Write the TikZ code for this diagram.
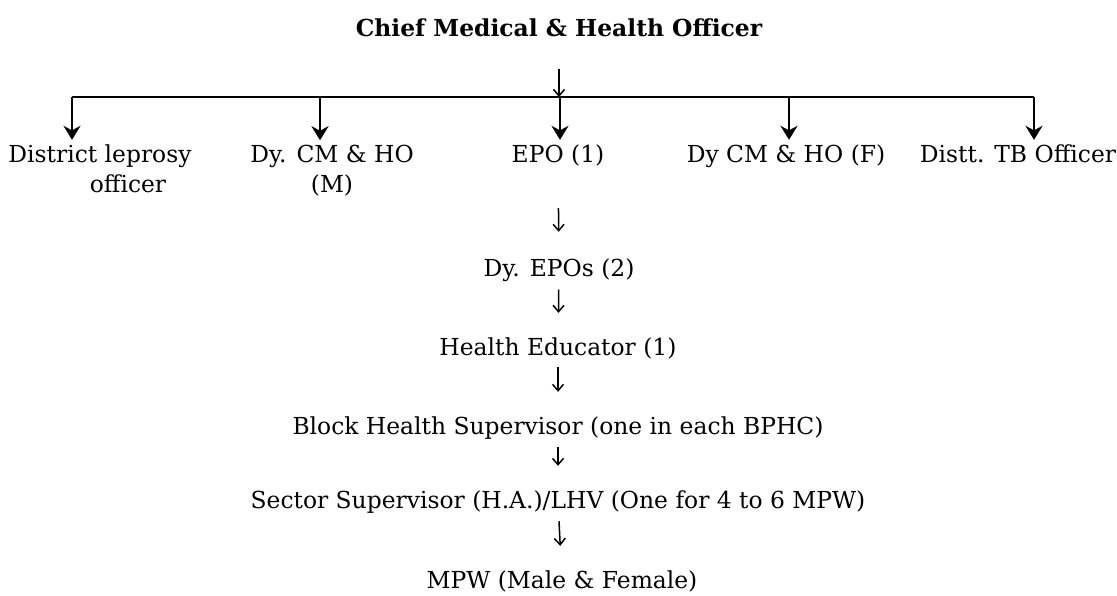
\documentclass[tikz,border=0pt]{standalone}
\usepackage{fontspec}
\setmainfont{DejaVu Serif}
\usetikzlibrary{arrows.meta,positioning}
\tikzset{
  post/.style={align=center, inner sep=0pt, font=\fontsize{11.7}{15}\selectfont},
  chief/.style={post, font=\fontsize{11.7}{15}\selectfont\bfseries},
  barline/.style={line width=1.1pt},
  droparr/.style={-{Stealth[length=7pt,width=8.5pt]}, line width=1.2pt, shorten >=2pt},
  downarr/.style={-{Straight Barb[length=3.2pt,width=5.5pt]}, line width=0.75pt,
    shorten <=4pt, shorten >=12pt}
}
\begin{document}
\begin{tikzpicture}[x=0.5pt, y=-0.5pt]
  \useasboundingbox (0,0) rectangle (1117,595);
  % top of the district
  \node[chief, anchor=base] (cmho) at (559,36) {Chief Medical \& Health Officer};
  \coordinate (hub) at (559,97);
  \draw[downarr, shorten <=16pt, shorten >=0pt] (cmho) -- (hub);
  % officers under the CMHO
  \node[post, anchor=base] (lep) at (100,192) {District leprosy\\\hspace*{28pt}officer};
  \node[post, anchor=base] (dycmm) at (332,192) {Dy. CM \& HO\\(M)};
  \node[post, anchor=base] (epo) at (558,162) {EPO (1)};
  \node[post, anchor=base] (dycmf) at (786,162) {Dy CM \& HO (F)};
  \node[post, anchor=base] (tbo) at (1018,162) {Distt. TB Officer};
  \coordinate (b1) at (72,97);
  \coordinate (b2) at (320,97);
  \coordinate (b3) at (560,97);
  \coordinate (b4) at (789,97);
  \coordinate (b5) at (1034,97);
  \draw[barline] (b1) -- (b5);
  \draw[droparr] (b1) -- (b1 |- lep.north);
  \draw[droparr] (b2) -- (b2 |- dycmm.north);
  \draw[droparr] (b3) -- (b3 |- epo.north);
  \draw[droparr] (b4) -- (b4 |- dycmf.north);
  \draw[droparr] (b5) -- (b5 |- tbo.north);
  % field staff chain
  \node[post, anchor=base] (dyepo) at (559,276) {Dy. EPOs (2)};
  \node[post, anchor=base] (educ) at (558,355) {Health Educator (1)};
  \node[post, anchor=base] (bhs) at (558,434) {Block Health Supervisor (one in each BPHC)};
  \node[post, anchor=base] (sector) at (558,508) {Sector Supervisor (H.A.)/LHV (One for 4 to 6 MPW)};
  \node[post, anchor=base] (mpw) at (562,588) {MPW (Male \& Female)};
  \draw[downarr, shorten <=21pt, shorten >=13pt] (epo) -- (dyepo);
  \draw[downarr] (dyepo) -- (educ);
  \draw[downarr] (educ) -- (bhs);
  \draw[downarr] (bhs) -- (sector);
  \draw[downarr] (sector) -- (mpw);
\end{tikzpicture}
\end{document}
